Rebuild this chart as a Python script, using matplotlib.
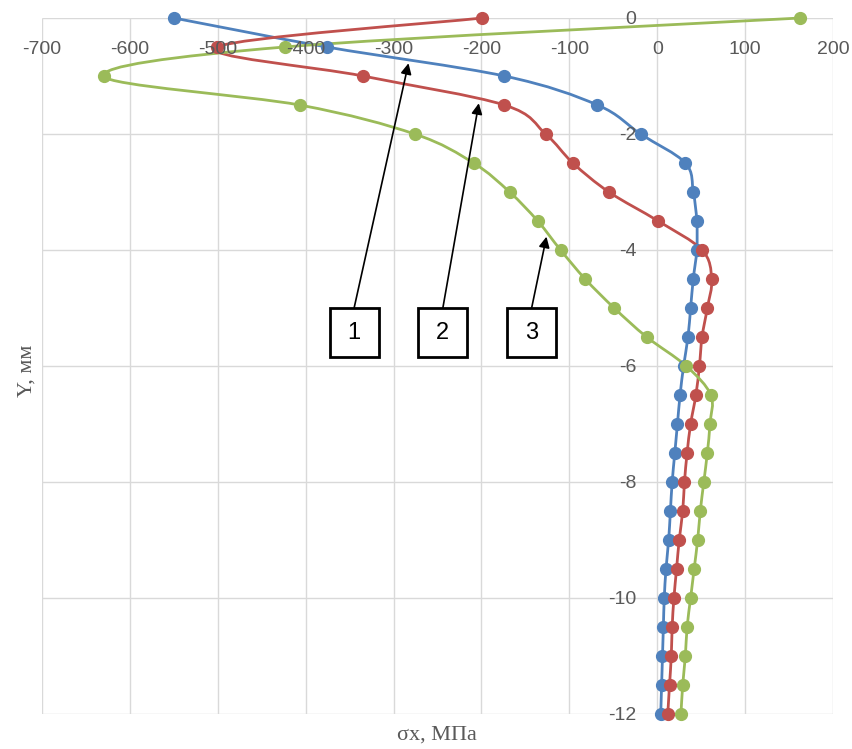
import numpy as np
import matplotlib
matplotlib.use("Agg")
import matplotlib.pyplot as plt
from matplotlib.path import Path
from matplotlib.patches import PathPatch, Rectangle

plt.rcParams['axes.unicode_minus'] = False

# ---- data ----
y_mm = [0, -0.5, -1, -1.5, -2, -2.5, -3, -3.5, -4, -4.5, -5, -5.5, -6, -6.5, -7,
        -7.5, -8, -8.5, -9, -9.5, -10, -10.5, -11, -11.5, -12]
sx_1 = [-550, -376, -174, -68, -19, 32, 41, 45, 45, 41, 38, 35, 30, 26, 23,
        20, 17, 15, 13, 10, 8, 7, 6, 5, 4]
sx_2 = [-199, -501, -335, -174, -127, -96, -55, 1, 51, 62, 57, 51, 48, 44, 38,
        34, 31, 29, 25, 22, 19, 17, 16, 14, 12]
sx_3 = [163, -424, -630, -407, -276, -209, -168, -136, -110, -82, -49, -12, 33, 61, 60,
        57, 53, 49, 46, 42, 38, 34, 32, 29, 27]
series_colors = ["#4f81bd", "#c0504d", "#9bbb59"]
x_ticks = [-700, -600, -500, -400, -300, -200, -100, 0, 100, 200]
y_ticks = [0, -2, -4, -6, -8, -10, -12]
labels = ["1", "2", "3"]
label_pos = [(-345, -5.43), (-244, -5.43), (-143, -5.43)]
arrow_tip = [(-283, -0.78), (-203, -1.47), (-126, -3.77)]

fig = plt.figure(figsize=(8.52, 7.49), dpi=100)
ax = fig.add_axes([42 / 852, 1 - 714 / 749, (833 - 42) / 852, (714 - 18) / 749])
ax.set_xlim(-700, 200)
ax.set_ylim(-12, 0)


def smooth_path(xs, ys):
    pts = np.column_stack([xs, ys]).astype(float)
    n = len(pts)
    verts = [pts[0]]
    codes = [Path.MOVETO]
    for i in range(n - 1):
        p0 = pts[i - 1] if i > 0 else pts[i]
        p1 = pts[i]
        p2 = pts[i + 1]
        p3 = pts[i + 2] if i + 2 < n else pts[i + 1]
        c1 = p1 + (p2 - p0) / 6.0
        c2 = p2 - (p3 - p1) / 6.0
        verts += [c1, c2, p2]
        codes += [Path.CURVE4] * 3
    return Path(verts, codes)


# grid drawn beneath everything
ax.vlines(x_ticks, -12, 0, colors="#d9d9d9", lw=1.0, zorder=0)
ax.hlines(y_ticks, -700, 200, colors="#d9d9d9", lw=1.0, zorder=0)

for xs, c in zip([sx_1, sx_2, sx_3], series_colors):
    ax.add_patch(PathPatch(smooth_path(xs, y_mm), fill=False, edgecolor=c,
                           lw=2.0, zorder=3, capstyle='round', joinstyle='round',
                           clip_on=False))
    ax.plot(xs, y_mm, linestyle='none', marker='o', markersize=8.5,
            color=c, zorder=4, clip_on=False)

# ticks: labels drawn above the data
ax.set_xticks(x_ticks)
ax.set_yticks(y_ticks)
ax.grid(False)
for s in ax.spines.values():
    s.set_visible(False)
ax.spines['left'].set_position(('data', 0))
ax.tick_params(axis='both', length=0, labelcolor="#595959", labelsize=14)
ax.tick_params(axis='x', top=False, bottom=False, labeltop=True, labelbottom=False, pad=-29)
ax.tick_params(axis='y', pad=15)
ax.xaxis.set_zorder(8)
ax.yaxis.set_zorder(8)
for lab in ax.get_xticklabels() + ax.get_yticklabels():
    lab.set_fontfamily("Liberation Sans")

# boxes with arrows
bw = 49 / 852 * 900 / ((833 - 42) / 852)
bh = 49 / 58.0
for lab, (bx, by), (tx, ty) in zip(labels, label_pos, arrow_tip):
    ax.add_patch(Rectangle((bx - bw / 2, by - bh / 2), bw, bh, facecolor="white",
                           edgecolor="black", lw=2.0, zorder=6))
    ax.text(bx, by, lab, ha='center', va='center', fontsize=17,
            fontfamily="Liberation Sans", zorder=7)
    ax.annotate("", xy=(tx, ty), xytext=(bx, by + bh / 2),
                arrowprops=dict(arrowstyle='-|>', color='black', lw=1.2,
                                mutation_scale=16, shrinkA=0, shrinkB=0),
                zorder=5)

fig.text(437 / 852, 1 - 735 / 749, "σx, МПа", ha='center', va='center',
         fontsize=16, fontfamily="Liberation Serif", color="#595959")
fig.text(27 / 852, 1 - 371 / 749, "Y, мм", ha='center', va='center',
         fontsize=16, fontfamily="Liberation Serif", color="#595959", rotation=90)

fig.savefig("out.png", dpi=100)
